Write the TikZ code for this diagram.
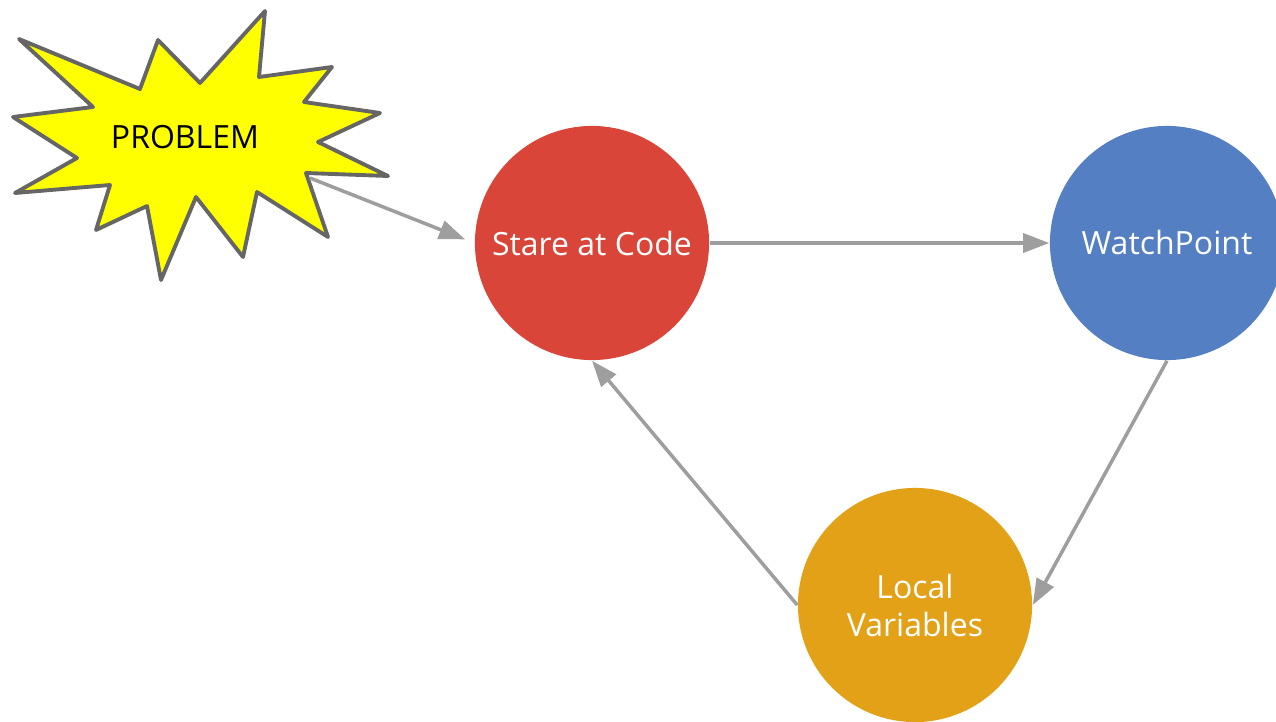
\documentclass[tikz,border=0pt]{standalone}
\usepackage{fontspec}
\setmainfont{Open Sans}
\usepackage{tikz}
\usetikzlibrary{positioning,arrows.meta}
\definecolor{codered}{RGB}{218,69,57}
\definecolor{watchblue}{RGB}{84,127,194}
\definecolor{localorange}{RGB}{227,161,24}
\definecolor{arrowgray}{RGB}{158,158,158}
\definecolor{burstgray}{RGB}{102,102,102}
\definecolor{burstyellow}{RGB}{255,255,0}

\begin{document}
\begin{tikzpicture}[x=0.01cm, y=-0.01cm,
    step circle/.style={circle, minimum size=2.34cm, inner sep=0pt, text=white, align=center, font=\fontsize{9.1}{10.8}\selectfont},
    flow/.style={-{Triangle[length=7.4pt,width=5.4pt]}, draw=arrowgray, line width=1pt}]
  \clip (0,0) rectangle (1276,721);
  \useasboundingbox (0,0) rectangle (1276,721);
  % the burst
  \draw[fill=burstyellow, draw=burstgray, line width=1.1pt, line join=round]
    (19,39) -- (140,89) -- (158,40) -- (200,83) -- (265,11) -- (259,77) -- (332,67) -- (304,102)
    -- (380,113) -- (318,142) -- (388,176) -- (306,173) -- (328,237) -- (257,192) -- (243,257)
    -- (196,197) -- (161,280) -- (147,206) -- (96,230) -- (110,185) -- (15,193) -- (77,158)
    -- (13,117) -- (93,107) -- cycle;
  \node (problem) at (185,137) [font=\fontsize{9.1}{10.8}\selectfont] {PROBLEM};
  \coordinate (bursttip) at (310,178);
  \node (stare) at (592,243) [step circle, fill=codered] {Stare at Code};
  \node (watch) at (1167,243) [step circle, fill=watchblue] {\raisebox{0.6pt}{WatchPoint}};
  \node (local) at (915,605) [step circle, fill=localorange] {Local\\Variables};
  \draw[flow, shorten >=2.8pt] (bursttip) to (stare.west);
  \draw[flow] (stare.east) to (watch.west);
  \draw[flow] (watch.south) to (local.east);
  \draw[flow] (local.west) to (stare.south);
\end{tikzpicture}
\end{document}
